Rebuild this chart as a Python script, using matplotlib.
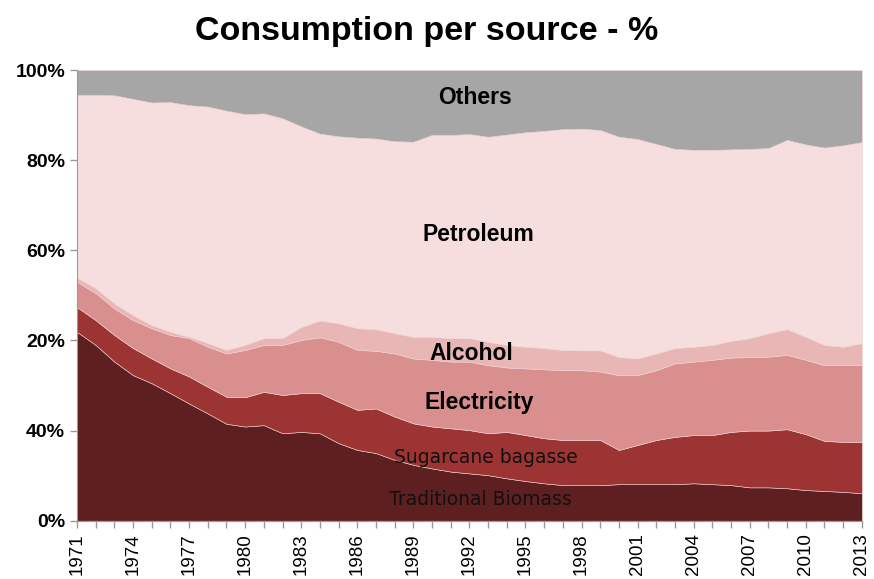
import numpy as np
import matplotlib.pyplot as plt

# Energy consumption shares by source (% of total), 1971-2013
years = list(range(1971, 2014))

traditional_biomass = [41.9, 39.0, 35.3, 32.3, 30.5, 28.3, 26.0, 23.8, 21.5, 20.9,
                       21.2, 19.4, 19.7, 19.4, 17.2, 15.7, 15.0, 13.5, 12.4, 11.6,
                       10.9, 10.5, 10.1, 9.4, 8.8, 8.3, 7.9, 7.9, 7.9, 8.1,
                       8.1, 8.1, 8.1, 8.3, 8.1, 7.9, 7.4, 7.4, 7.2, 6.8,
                       6.6, 6.4, 6.1]
sugarcane_bagasse = [5.5, 5.5, 5.9, 6.0, 5.5, 5.5, 6.0, 5.9, 6.0, 6.5,
                     7.4, 8.5, 8.6, 8.9, 9.2, 8.9, 9.9, 9.6, 9.2, 9.3,
                     9.6, 9.6, 9.3, 10.3, 10.2, 10.0, 10.0, 10.0, 10.0, 7.6,
                     8.7, 9.8, 10.5, 10.7, 10.9, 11.8, 12.6, 12.6, 13.1, 12.4,
                     11.1, 11.1, 11.3]
electricity = [5.6, 6.0, 5.9, 6.2, 6.7, 7.4, 8.5, 8.9, 9.6, 10.5,
               10.4, 11.1, 11.8, 12.4, 13.3, 13.3, 12.8, 14.0, 14.4, 14.8,
               14.8, 15.2, 15.1, 14.3, 14.8, 15.3, 15.5, 15.5, 15.2, 16.6,
               15.5, 15.5, 16.3, 16.3, 16.7, 16.5, 16.3, 16.4, 16.5, 16.5,
               16.8, 17.0, 17.1]
alcohol = [0.9, 1.1, 1.1, 1.1, 0.7, 0.7, 0.3, 0.8, 0.8, 1.1,
           1.5, 1.5, 2.9, 3.7, 4.1, 4.8, 4.8, 4.5, 4.8, 5.1,
           5.2, 5.2, 5.2, 5.0, 4.8, 4.7, 4.5, 4.4, 4.7, 4.0,
           3.7, 3.7, 3.4, 3.3, 3.3, 3.7, 4.2, 5.2, 5.7, 5.1,
           4.5, 4.1, 4.9]
petroleum = [40.6, 42.9, 46.2, 48.0, 49.4, 51.0, 51.4, 52.5, 53.1, 51.2,
             49.9, 48.8, 44.5, 41.5, 41.5, 42.3, 42.3, 42.6, 43.3, 44.8,
             45.1, 45.3, 45.5, 46.7, 47.6, 48.2, 49.0, 49.2, 48.9, 48.9,
             48.7, 46.5, 44.2, 43.7, 43.3, 42.5, 42.0, 41.1, 42.0, 42.7,
             43.8, 44.7, 44.6]
others = [5.5, 5.5, 5.6, 6.4, 7.2, 7.1, 7.8, 8.1, 9.0, 9.8,
          9.6, 10.7, 12.5, 14.1, 14.7, 15.0, 15.2, 15.8, 15.9, 14.4,
          14.4, 14.2, 14.8, 14.3, 13.8, 13.5, 13.1, 13.0, 13.3, 14.8,
          15.3, 16.4, 17.5, 17.7, 17.7, 17.6, 17.5, 17.3, 15.5, 16.5,
          17.2, 16.7, 16.0]

colors = ['#5e1f20', '#9b3432', '#da8f8f', '#e9b6b6', '#f6dede', '#a6a6a6']

yticks = [0, 20, 40, 60, 80, 100]
ytick_labels = ['0%', '40%', '20%', '60%', '80%', '100%']
xtick_years = years[::3]

fig = plt.figure(figsize=(8.74, 5.79), dpi=100)
ax = fig.add_axes([0.0881, 0.1007, 0.8980, 0.7783])

ax.stackplot(years, traditional_biomass, sugarcane_bagasse, electricity,
             alcohol, petroleum, others, colors=colors,
             edgecolor='#f0d0d0', linewidth=0.4)

ax.set_xlim(1971, 2013)
ax.set_ylim(0, 100)

ax.set_yticks(yticks)
ax.set_yticklabels(ytick_labels, fontsize=14, fontweight='bold',
                   family='Liberation Sans')
ax.set_xticks(xtick_years)
ax.set_xticks(years, minor=True)
ax.set_xticklabels([str(y) for y in xtick_years], rotation=90,
                   fontsize=13.5, family='Liberation Sans')
ax.tick_params(axis='both', which='both', color='#999999', length=5, width=1)
ax.tick_params(axis='x', pad=4)

for side in ['top', 'right']:
    ax.spines[side].set_visible(False)
for side in ['left', 'bottom']:
    ax.spines[side].set_color('#999999')

# Series labels inside the bands
bold = dict(fontsize=16.5, fontweight='bold', family='Liberation Sans',
            ha='center', va='center', color='black')
ax.text(1992.3, 93.8, 'Others', **bold)
ax.text(1992.5, 63.4, 'Petroleum', **bold)
ax.text(1992.1, 37.2, 'Alcohol', **bold)
ax.text(1992.5, 26.3, 'Electricity', **bold)
plain = dict(fontsize=13.5, family='DejaVu Sans', ha='center', va='center',
             color='#111111')
ax.text(1992.9, 14.0, 'Sugarcane bagasse', **plain)
ax.text(1992.6, 4.8, 'Traditional Biomass', **plain)

fig.text(0.488, 0.946, 'Consumption per source - %', ha='center', va='center',
         fontsize=24.5, fontweight='bold', family='Liberation Sans')

fig.savefig('out.png', dpi=100)
